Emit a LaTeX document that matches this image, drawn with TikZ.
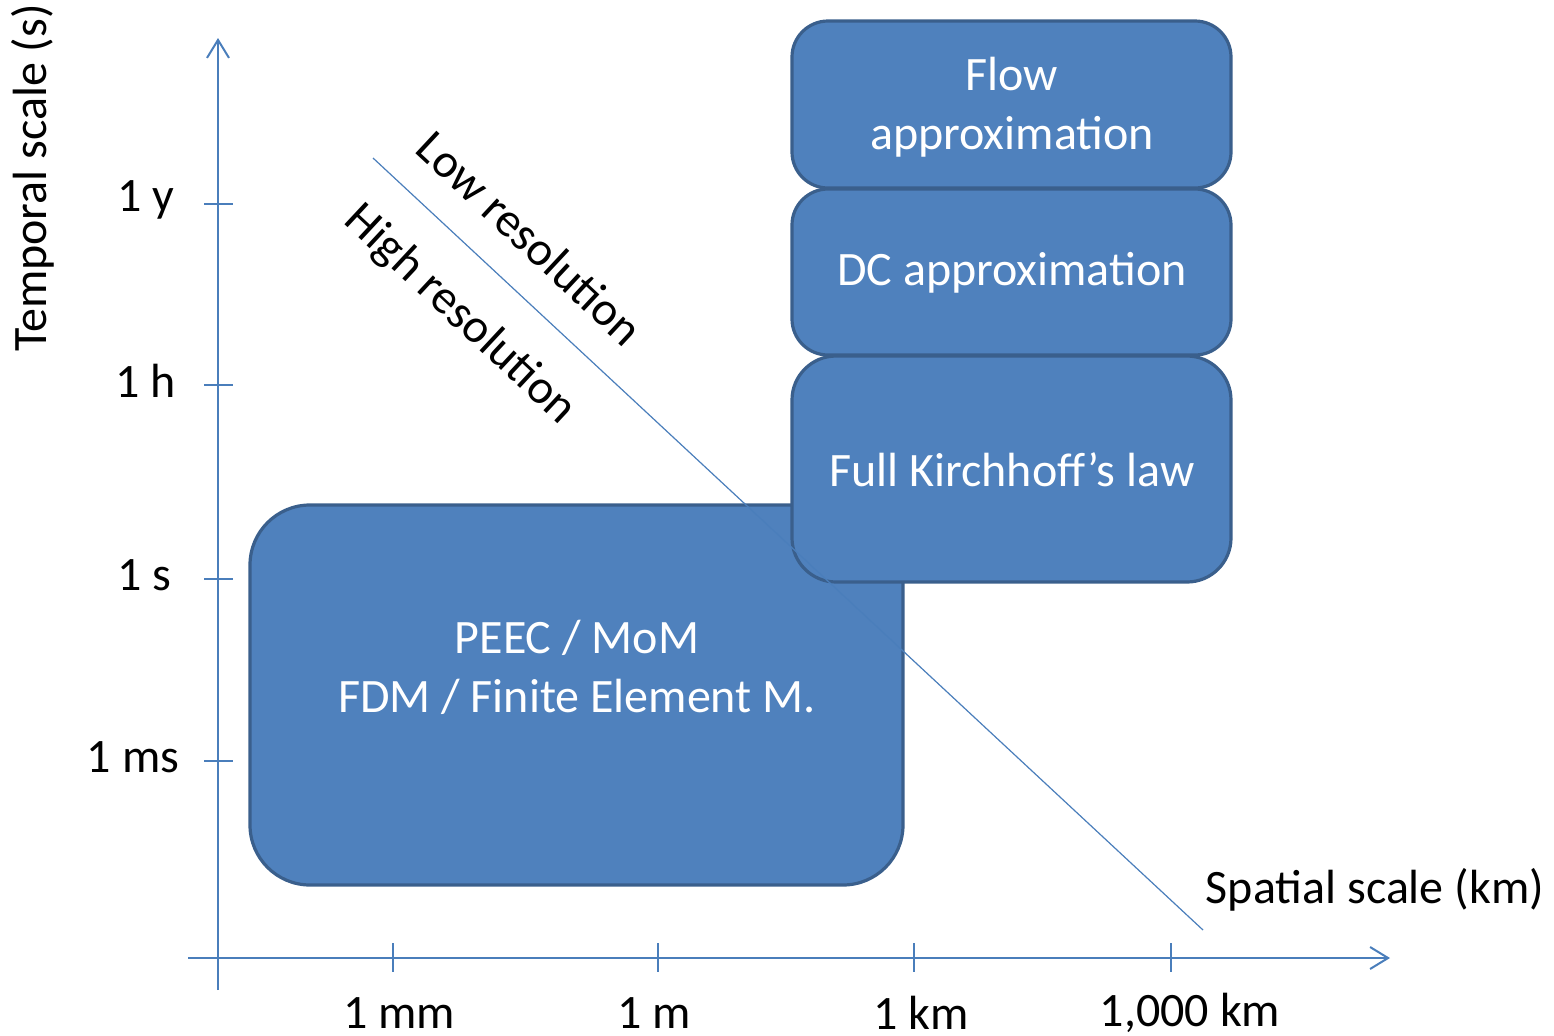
\documentclass[tikz,border=0pt]{standalone}
\usepackage{fontspec}
\setmainfont{Carlito}
\usetikzlibrary{arrows.meta}
\definecolor{boxfill}{HTML}{4F81BD}
\definecolor{boxdraw}{HTML}{3A5F8C}
\definecolor{axiscol}{HTML}{4A7EBB}
\begin{document}
\begin{tikzpicture}[x=0.5pt,y=-0.5pt,
  every node/.style={font=\fontsize{24}{29.5}\selectfont, inner sep=0pt},
  blockbox/.style={draw=boxdraw, fill=boxfill, line width=1.6pt, rounded corners=#1},
  blockbox/.default=18pt,
  boxtext/.style={text=white, align=center},
  axisline/.style={draw=axiscol, line width=1pt},
  axisarrow/.style={axisline, -{Straight Barb[length=9pt,width=11pt,line width=1pt]}},
  tickline/.style={draw=axiscol, line width=1pt},
  diag/.style={draw=axiscol, line width=0.6pt},
  ticklabel/.style={text=black}
]
\useasboundingbox (0,0) rectangle (1554,1035);

% axes
\coordinate (ybot) at (218,990);
\coordinate (ytop) at (218,38);
\coordinate (xl) at (188,958);
\coordinate (xr) at (1390,958);
\draw[axisarrow] (ybot) -- (ytop);
\draw[axisarrow] (xl) -- (xr);

% y ticks
\foreach \yy/\nm in {204/ty,385/th,579/ts,761/tms}{
  \coordinate (\nm a) at (204,\yy);
  \coordinate (\nm b) at (233,\yy);
  \draw[tickline] (\nm a) -- (\nm b);
}
% x ticks
\foreach \xx/\nm in {393/tmm,658/tm,914/tkm,1171/tkkm}{
  \coordinate (\nm a) at (\xx,943);
  \coordinate (\nm b) at (\xx,972);
  \draw[tickline] (\nm a) -- (\nm b);
}

\node[ticklabel] (ly) at (146,200) {1 y};
\node[ticklabel] (lh) at (146,381) {1 h};
\node[ticklabel] (ls) at (144,575) {1 s};
\node[ticklabel] (lms) at (133,757) {1 ms};

\node[ticklabel] (lmm) at (399,1013) {1 mm};
\node[ticklabel] (lm) at (654,1013) {1 m};
\node[ticklabel] (lkm) at (921,1013) {1 km};
\node[ticklabel] (lkkm) at (1190,1013) {1,000 km};

\node[rotate=90] (ytitle) at (33,178) {Temporal scale (s)};
\node (xtitle) at (1375,890) {Spatial scale (km)};

% boxes
\node[blockbox=30pt, minimum width=326.5pt, minimum height=190pt] (peec) at (576.5,695) {};
\node[boxtext] (peect) at (577,667) {PEEC / MoM\\FDM / Finite Element M.};

\node[blockbox, minimum width=219.5pt, minimum height=83.5pt] (flow) at (1011.5,104.5) {};
\node[boxtext] (flowt) at (1012,107) {Flow\\approximation};

\node[blockbox, minimum width=219.5pt, minimum height=83pt] (dc) at (1011.5,272) {};
\node[boxtext] (dct) at (1012,273) {DC approximation};

\node[blockbox=22pt, minimum width=219.5pt, minimum height=113pt] (kirch) at (1011.5,469) {};
\node[boxtext] (kircht) at (1012,470) {Full Kirchhoff’s law};

% diagonal
\coordinate (d1) at (373,158);
\coordinate (d2) at (1203,930);
\draw[diag] (d1) -- (d2);

\node[rotate=-43] (low) at (530,238) {Low resolution};
\node[rotate=-43] (high) at (460,315) {High resolution};
\end{tikzpicture}
\end{document}
